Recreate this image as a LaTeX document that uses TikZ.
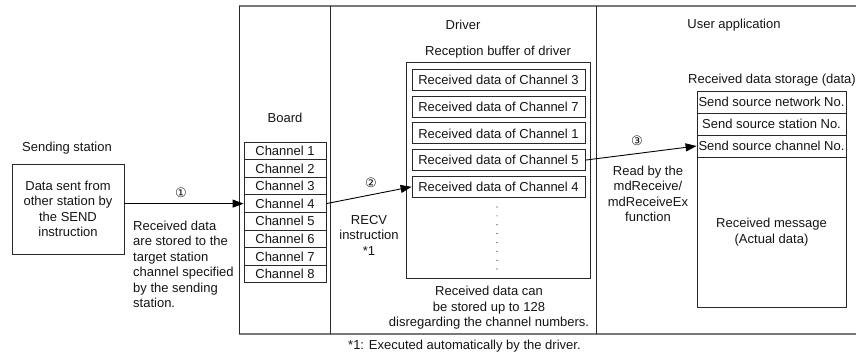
\documentclass[tikz,border=0pt]{standalone}
\usepackage{fontspec}
\setmainfont{Liberation Sans}
\newfontfamily\circfont{DejaVu Sans}
\usepackage{xcolor}
\usetikzlibrary{arrows.meta, positioning, calc}
\definecolor{RcvFrame}{RGB}{120, 120, 120}
\definecolor{RcvLine}{RGB}{40, 40, 40}
\definecolor{RcvText}{RGB}{20, 20, 20}
\tikzset{
  txt/.style={inner sep=0pt, align=center, text=RcvText, font=\fontsize{13}{15.5}\selectfont},
  cell/.style={draw=RcvLine, line width=0.8pt, inner sep=0pt, text=RcvText, font=\fontsize{13}{15.5}\selectfont},
  flow/.style={draw=black, line width=0.9pt, -{Triangle[length=11pt, width=8pt]}},
  num/.style={inner sep=0pt, text=RcvText, font=\circfont\fontsize{13}{14}\selectfont}
}

\begin{document}
\begin{tikzpicture}[x=1pt, y=-1pt]
    \useasboundingbox (0,0) rectangle (856,358);
    % board / driver / user application frame
    \draw[RcvFrame, line width=1.3pt] (239,6) -- (856,6) (239,334) -- (856,334);
    \draw[RcvLine, line width=0.9pt] (239,6) -- (239,334) (330,6) -- (330,334) (596,6) -- (596,334);

    % sending station
    \node[txt] (sendlbl) at (67,148) {Sending station};
    \node[cell, minimum width=112pt, minimum height=90pt, align=center] (send) at (68,209)
      {Data sent from\\other station by\\the SEND\\instruction};

    % board
    \node[txt] (boardlbl) at (285,118) {Board};
    \foreach \i in {1,...,8}
      \node[cell, minimum width=82pt, minimum height=17.6pt] (ch\i) at (285,{142+17.6*(\i-0.5)}) {Channel \i};

    % driver
    \node[txt] (drvlbl) at (463,25) {Driver};
    \node[txt] (buflbl) at (498,52) {Reception buffer of driver};
    \node[cell, minimum width=184pt, minimum height=216pt] (buf) at (498,170) {};
    \foreach \c [count=\k] in {3,7,1,5,4}
      \node[cell, minimum width=173pt, minimum height=21pt] (ent\k) at (498.5,{80+26.7*(\k-1)}) {Received data of Channel \c};
    \foreach \k in {0,...,7}
      \fill[RcvText] (497,{207+8.86*\k}) circle (0.6pt);
    \node[txt] (bufnote) at (489,308) {Received data can\\be stored up to 128\\disregarding the channel numbers.};

    % user application
    \node[txt] (usrlbl) at (734,25) {User application};
    \node[txt] (stolbl) at (772,80) {Received data storage (data)};
    \node[cell, minimum width=149pt, minimum height=22pt] (src1) at (771.5,102) {Send source network No.};
    \node[cell, minimum width=149pt, minimum height=22pt] (src2) at (771.5,124) {Send source station No.};
    \node[cell, minimum width=149pt, minimum height=22pt] (src3) at (771.5,146) {Send source channel No.};
    \node[cell, minimum width=149pt, minimum height=150pt, align=center] (msg) at (771.5,232)
      {Received message\\(Actual data)};

    % flows
    \draw[flow] (send.east |- ch4.west) -- (ch4.west);
    \node[num] (n1) at (181,193) {①};
    \node[txt, anchor=west, align=left] (note1) at (133,264.5)
      {Received data\\are stored to the\\target station\\channel specified\\by the sending\\station.};
    \draw[flow] (ch4.east) -- (ent5.west);
    \node[num] (n2) at (371,183) {②};
    \node[txt] (recv) at (369,235) {RECV\\instruction\\*1};
    \draw[flow] (ent4.east) -- (src3.west);
    \node[num] (n3) at (637,141) {③};
    \node[txt] (readnote) at (648,194) {Read by the\\mdReceive/\\mdReceiveEx\\function};
    \node[txt, anchor=west] (foot) at (348,346) {*1: Executed automatically by the driver.};
\end{tikzpicture}
\end{document}
